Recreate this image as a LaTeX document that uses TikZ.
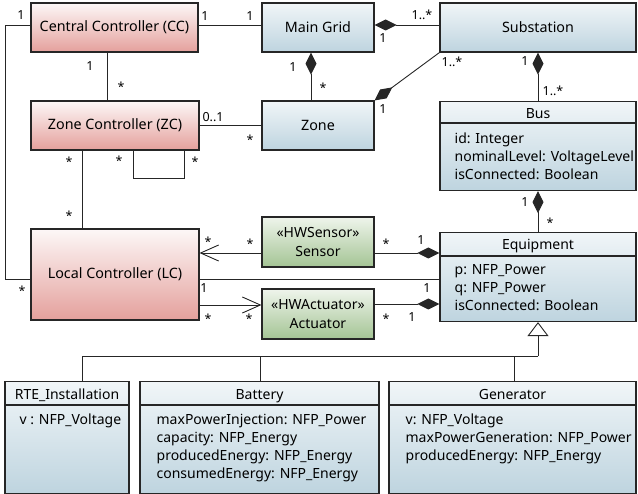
\documentclass[tikz,border=0pt]{standalone}
\usepackage{fontspec}
\setmainfont{Noto Sans}
\definecolor{ctrlred}{RGB}{228,160,156}
\definecolor{gridblue}{RGB}{190,212,223}
\definecolor{hwgreen}{RGB}{164,196,148}
\usetikzlibrary{arrows.meta, positioning, calc}
\tikzset{
  classbox/.style={draw=black!85, line width=1.1pt, minimum height=49pt, inner sep=0pt, font=\fontsize{14.3}{17}\selectfont},
  ctrlbox/.style={classbox, top color=ctrlred!8, bottom color=ctrlred},
  gridbox/.style={classbox, top color=gridblue!22, bottom color=gridblue},
  hwbox/.style={classbox, top color=hwgreen!18, bottom color=hwgreen, align=center, font=\fontsize{14}{19}\selectfont},
  ctitle/.style={inner sep=0pt, anchor=base, font=\fontsize{14}{17}\selectfont},
  attrs/.style={anchor=north west, align=left, inner sep=0pt, font=\fontsize{14}{18}\selectfont},
  mult/.style={inner sep=0pt, font=\fontsize{12.5}{13}\selectfont},
  assoc/.style={draw=black!85, line width=0.9pt},
  compo/.style={assoc, {Diamond[length=22pt,width=11pt]}-},
  navig/.style={assoc, -{Straight Barb[length=18pt,width=16pt]}},
  general/.style={assoc, -{Triangle[open,length=14pt,width=21pt,fill=white]}},
}

\begin{document}
\begin{tikzpicture}[x=1pt, y=-1pt]
  \useasboundingbox (0,0) rectangle (638,494);

  % controllers
  \node[ctrlbox, minimum width=167pt] (cc) at (114.5,27.5) {Central Controller (CC)};
  \node[ctrlbox, minimum width=168pt] (zc) at (115,125.5) {Zone Controller (ZC)};
  \node[ctrlbox, minimum width=168pt, minimum height=91pt] (lc) at (115,274.5) {Local Controller (LC)};

  % grid structure
  \node[gridbox, minimum width=112pt] (mg) at (318,27.5) {Main Grid};
  \node[gridbox, minimum width=112pt] (zone) at (318,125.5) {Zone};
  \node[gridbox, minimum width=196pt] (sub) at (538,27.5) {Substation};

  \node[gridbox, minimum width=196pt, minimum height=89pt, anchor=north] (bus) at (538,101) {};
  \node[ctitle] (busT) at ([yshift=-18pt]bus.north) {Bus};
  \draw[assoc, line width=1.1pt] ([yshift=-22pt]bus.north west) -- ([yshift=-22pt]bus.north east);
  \node[attrs] (busA) at ([xshift=15pt,yshift=-32pt]bus.north west) {id: Integer\\nominalLevel: VoltageLevel\\isConnected: Boolean};

  \node[gridbox, minimum width=196pt, minimum height=89pt, anchor=north] (eq) at (538,232) {};
  \node[ctitle] (eqT) at ([yshift=-18pt]eq.north) {Equipment};
  \draw[assoc, line width=1.1pt] ([yshift=-24pt]eq.north west) -- ([yshift=-24pt]eq.north east);
  \node[attrs] (eqA) at ([xshift=15pt,yshift=-32pt]eq.north west) {p: NFP\_Power\\q: NFP\_Power\\isConnected: Boolean};

  % hardware
  \node[hwbox, minimum width=112pt, minimum height=50pt] (sen) at (318,242) {«HWSensor»\\Sensor};
  \node[hwbox, minimum width=112pt, minimum height=50pt] (act) at (318,314) {«HWActuator»\\Actuator};

  % specialisations
  \node[gridbox, minimum width=124pt, minimum height=112pt, anchor=north] (rte) at (67,381) {};
  \node[ctitle] (rteT) at ([yshift=-19pt]rte.north) {RTE\_Installation};
  \draw[assoc, line width=1.1pt] ([yshift=-24pt]rte.north west) -- ([yshift=-24pt]rte.north east);
  \node[attrs] (rteA) at ([xshift=15pt,yshift=-33pt]rte.north west) {v : NFP\_Voltage};

  \node[gridbox, minimum width=239pt, minimum height=112pt, anchor=north] (bat) at (259.5,381) {};
  \node[ctitle] (batT) at ([yshift=-19pt]bat.north) {Battery};
  \draw[assoc, line width=1.1pt] ([yshift=-24pt]bat.north west) -- ([yshift=-24pt]bat.north east);
  \node[attrs] (batA) at ([xshift=17pt,yshift=-33pt]bat.north west) {maxPowerInjection: NFP\_Power\\capacity: NFP\_Energy\\producedEnergy: NFP\_Energy\\consumedEnergy: NFP\_Energy};

  \node[gridbox, minimum width=247pt, minimum height=112pt, anchor=north] (gen) at (512.5,381) {};
  \node[ctitle] (genT) at ([yshift=-19pt]gen.north) {Generator};
  \draw[assoc, line width=1.1pt] ([yshift=-24pt]gen.north west) -- ([yshift=-24pt]gen.north east);
  \node[attrs] (genA) at ([xshift=17pt,yshift=-33pt]gen.north west) {v: NFP\_Voltage\\maxPowerGeneration: NFP\_Power\\producedEnergy: NFP\_Energy};

  % associations
  \draw[assoc] ([yshift=2.5pt]cc.east) -- ([yshift=2.5pt]mg.west);
  \node[mult] (m1) at (205,16) {1};
  \node[mult] (m2) at (250,16) {1};

  \draw[compo] ([yshift=2.5pt]mg.east) -- ([yshift=2.5pt]sub.west);
  \node[mult] (m3) at (422,15) {1..*};
  \node[mult] (m4) at (383,38) {1};

  \draw[assoc] ([xshift=-7.5pt]cc.south) -- ([xshift=-7.5pt]cc.south |- zc.north);
  \node[mult] (m5) at (90,66) {1};
  \node[mult] (m6) at (121,87) {*};

  \draw[compo] ([xshift=-7pt]mg.south) -- ([xshift=-7pt]mg.south |- zone.north);
  \node[mult] (m7) at (293,67) {1};
  \node[mult] (m8) at (323,88) {*};

  \draw[compo] (zone.north east) -- (sub.south west);
  \node[mult] (m9) at (452,62) {1..*};
  \node[mult] (m10) at (383,109) {1};

  \draw[compo] (sub.south) -- (bus.north);
  \node[mult] (m11) at (525,61) {1};
  \node[mult] (m12) at (553,91) {1..*};

  \draw[compo] (bus.south) -- (eq.north);
  \node[mult] (m13) at (525,202) {1};
  \node[mult] (m14) at (550,223) {*};

  \draw[assoc] (zc.east) -- (zone.west);
  \node[mult] (m15) at (213,117) {0..1};
  \node[mult] (m16) at (250,140) {*};

  \draw[assoc] ([xshift=18pt]zc.south) -- ++(0,28) -| ([xshift=69pt]zc.south);
  \node[mult] (m17) at (119,161) {*};
  \node[mult] (m18) at (195,162) {*};

  \draw[assoc] ([xshift=-33pt]zc.south) -- ([xshift=-33pt]zc.south |- lc.north);
  \node[mult] (m19) at (69,162) {*};
  \node[mult] (m20) at (69,216) {*};

  \draw[assoc] ([yshift=2.5pt]cc.west) -- ++(-25,0) |- ([yshift=-4.5pt]lc.west);
  \node[mult] (m21) at (21,15) {1};
  \node[mult] (m22) at (22,291) {*};

  \draw[navig] ([yshift=-11pt]sen.west) -- ([yshift=-11pt]sen.west -| lc.east);
  \node[mult] (m23) at (208,242) {*};
  \node[mult] (m24) at (250,244) {*};

  \draw[assoc] ([yshift=-4.5pt]lc.east) -- ([yshift=-4.5pt]lc.east -| eq.west);
  \node[mult] (m25) at (204,288) {1};
  \node[mult] (m26) at (427,288) {1};

  \draw[navig] ([yshift=-30.5pt]lc.east) -- ([yshift=-30.5pt]lc.east -| act.west);
  \node[mult] (m27) at (208,319) {*};
  \node[mult] (m28) at (249,319) {*};

  \draw[compo] ([yshift=-11pt]sen.east -| eq.west) -- ([yshift=-11pt]sen.east);
  \node[mult] (m29) at (386,244) {*};
  \node[mult] (m30) at (421,240) {1};

  \draw[compo] ([yshift=10pt]act.east -| eq.west) -- ([yshift=10pt]act.east);
  \node[mult] (m31) at (386,319) {*};
  \node[mult] (m32) at (412,317) {1};

  % generalisation
  \coordinate (genbar) at ([yshift=-34pt]eq.south);
  \draw[general] (genbar) -- (eq.south);
  \draw[assoc] ([xshift=15pt]rte.north) |- (genbar);
  \draw[assoc] ([xshift=0.5pt]bat.north) -- ([xshift=0.5pt]bat.north |- genbar);
  \draw[assoc] ([xshift=1.5pt]gen.north) -- ([xshift=1.5pt]gen.north |- genbar);
\end{tikzpicture}
\end{document}
